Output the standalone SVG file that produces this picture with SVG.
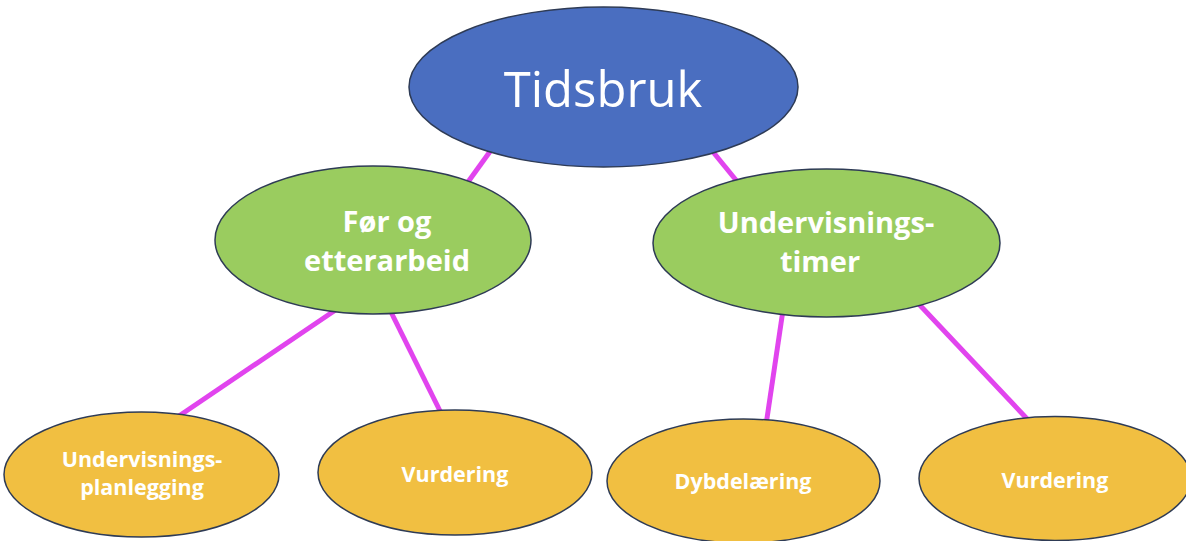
<svg xmlns="http://www.w3.org/2000/svg" width="1186" height="541" viewBox="0 0 1186 541">
<style>
.node{stroke:#2E3B55;stroke-width:1.5}
.blue{fill:#4A6EC0}
.green{fill:#9ACC5F}
.orange{fill:#F1BF41}
.conn line{stroke:#E144EE;stroke-width:5;stroke-linecap:butt}
text{fill:#FFFFFF;font-family:"Open Sans","Liberation Sans",sans-serif;text-anchor:middle}
.t0{font-size:49px;font-weight:400}
.t1{font-size:29px;font-weight:700}
.t2{font-size:21.5px;font-weight:700}
</style>
<rect width="1186" height="541" fill="#FFFFFF"/>
<g id="connectors" class="conn">
<line x1="494" y1="146" x2="468" y2="182"/>
<line x1="709" y1="147" x2="740" y2="185"/>
<line x1="337" y1="309" x2="176" y2="418"/>
<line x1="389" y1="308" x2="443" y2="417"/>
<line x1="783" y1="310" x2="766" y2="425"/>
<line x1="915" y1="300" x2="1031" y2="423"/>
</g>
<g id="tidsbruk">
<ellipse class="node blue" cx="603.5" cy="87" rx="194.5" ry="80"/>
<text class="t0" x="603" y="107">Tidsbruk</text>
</g>
<g id="for-og-etterarbeid">
<ellipse class="node green" cx="373" cy="240" rx="158" ry="74"/>
<text class="t1" x="387" y="232">Før og</text>
<text class="t1" x="387" y="271">etterarbeid</text>
</g>
<g id="undervisningstimer">
<ellipse class="node green" cx="826.5" cy="243" rx="173.5" ry="74"/>
<text class="t1" x="826" y="233">Undervisnings-</text>
<text class="t1" x="820" y="272">timer</text>
</g>
<g id="undervisningsplanlegging">
<ellipse class="node orange" cx="141.5" cy="474.5" rx="137.5" ry="62.5"/>
<text class="t2" x="142" y="467">Undervisnings-</text>
<text class="t2" x="142" y="495">planlegging</text>
</g>
<g id="vurdering-1">
<ellipse class="node orange" cx="455" cy="472.5" rx="137" ry="62.5"/>
<text class="t2" x="455" y="482">Vurdering</text>
</g>
<g id="dybdelaering">
<ellipse class="node orange" cx="743.5" cy="481" rx="136.5" ry="62"/>
<text class="t2" x="743" y="489">Dybdelæring</text>
</g>
<g id="vurdering-2">
<ellipse class="node orange" cx="1055" cy="478.5" rx="136" ry="62"/>
<text class="t2" x="1055" y="488">Vurdering</text>
</g>
</svg>
